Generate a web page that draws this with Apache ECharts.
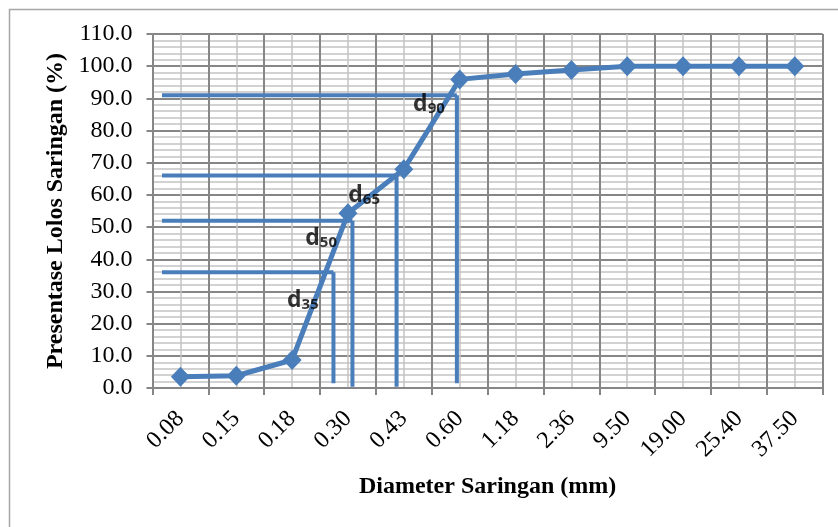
<!DOCTYPE html>
<html>
<head>
<meta charset="utf-8">
<script src="https://cdn.jsdelivr.net/npm/echarts@6/dist/echarts.min.js"></script>
<style>
html,body{margin:0;padding:0;background:#fff;}
#c{width:838px;height:527px;}
</style>
</head>
<body>
<div id="c"></div>
<script>
const categories = ['0.08','0.15','0.18','0.30','0.43','0.60','1.18','2.36','9.50','19.00','25.40','37.50'];
const passing = [3.5, 3.8, 8.7, 54.3, 68.0, 95.9, 97.6, 98.8, 100, 100, 100, 100];
const yTicks = {min: 0, max: 110, interval: 10};

// reference lines (d35, d50, d65, d90) on a helper value x-axis (0..12 spans the categories)
const refNames = ['35', '50', '65', '90'];
const refLevels = [36, 52, 66, 91];
const refX = [3.24, 3.58, 4.37, 5.45];
const refBottom = [1.5, 0.4, 0.4, 1.5];
const refStartX = 0.17;
const labelX = [2.69, 3.02, 3.79, 4.95];
const labelY = [27.7, 46.9, 60.3, 88.6];

const blue = '#4a7ebb';
const dark = '#868686';
const light = '#c4c4c4';

const refData = [];
refLevels.forEach((lv, i) => {
  refData.push([refStartX, lv], [refX[i], lv], null, [refX[i], lv], [refX[i], refBottom[i]], null);
});

const labelData = refNames.map((n, i) => ({value: [labelX[i], labelY[i]], name: n}));

const chart = echarts.init(document.getElementById('c'));
chart.setOption({
  animation: false,
  graphic: [{
    type: 'rect', left: 7, top: 7, shape: {width: 840, height: 530},
    style: {fill: 'none', stroke: '#a6a6a6', lineWidth: 1.5}, silent: true, z: -10
  }],
  grid: {left: 152.5, right: 15.3, top: 34, bottom: 139, containLabel: false},
  xAxis: [{
    type: 'category', data: categories, boundaryGap: true,
    axisLine: {show: true, lineStyle: {color: dark, width: 2}},
    axisTick: {show: true, length: 7, lineStyle: {color: dark, width: 2}},
    axisLabel: {rotate: 45, margin: 27, fontFamily: 'Liberation Serif', fontSize: 24, color: '#000'},
    splitLine: {show: true, lineStyle: {color: dark, width: 2}},
    name: 'Diameter Saringan (mm)', nameLocation: 'middle', nameGap: 87,
    nameTextStyle: {fontFamily: 'Liberation Serif', fontWeight: 'bold', fontSize: 24, color: '#000'}
  }, {
    type: 'value', min: 0, max: 12, interval: 1, position: 'bottom',
    axisLine: {show: false}, axisTick: {show: false}, axisLabel: {show: false},
    splitLine: {show: false},
    minorTick: {show: false, splitNumber: 2},
    minorSplitLine: {show: true, lineStyle: {color: light, width: 1.5}}
  }],
  yAxis: {
    type: 'value', min: yTicks.min, max: yTicks.max, interval: yTicks.interval,
    axisLine: {show: true, lineStyle: {color: dark, width: 2}},
    axisTick: {show: true, length: 6, lineStyle: {color: dark, width: 2}},
    axisLabel: {margin: 20, fontFamily: 'Liberation Serif', fontSize: 24, color: '#000',
      formatter: v => v.toFixed(1)},
    splitLine: {show: true, lineStyle: {color: dark, width: 2}},
    minorTick: {show: false, splitNumber: 5},
    minorSplitLine: {show: true, lineStyle: {color: light, width: 1.5}},
    name: 'Presentase Lolos Saringan (%)', nameLocation: 'middle', nameGap: 85,
    nameTextStyle: {fontFamily: 'Liberation Serif', fontWeight: 'bold', fontSize: 24, color: '#000'}
  },
  series: [{
    type: 'line', xAxisIndex: 1, data: refData, symbol: 'none', connectNulls: false,
    lineStyle: {color: blue, width: 4}, z: 2, silent: true
  }, {
    type: 'line', xAxisIndex: 0, data: passing, symbol: 'diamond', symbolSize: [19, 20],
    itemStyle: {color: blue}, lineStyle: {color: blue, width: 5}, z: 3
  }, {
    type: 'scatter', xAxisIndex: 1, data: labelData, symbolSize: 0, z: 4,
    label: {
      show: true, position: 'inside',
      formatter: p => '{d|d}{s|' + p.name + '}',
      rich: {
        d: {fontFamily: 'Open Sans', fontWeight: 'bold', fontSize: 23, color: '#000', lineHeight: 26, verticalAlign: 'bottom'},
        s: {fontFamily: 'Open Sans', fontWeight: 'bold', fontSize: 15, color: '#000', lineHeight: 16, verticalAlign: 'bottom'}
      }
    }
  }]
});
</script>
</body>
</html>
